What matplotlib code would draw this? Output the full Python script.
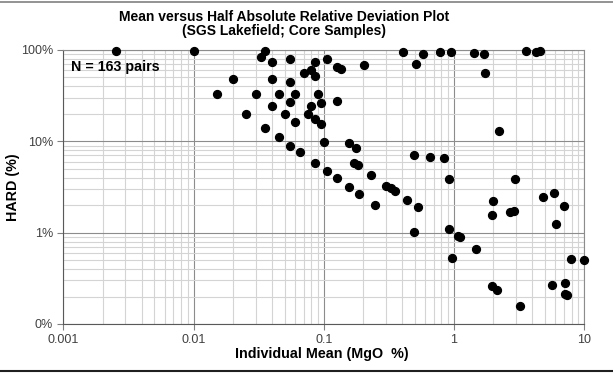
"""Mean vs half absolute relative deviation (HARD) scatter, log-log."""

import matplotlib

matplotlib.use("Agg")
import matplotlib.pyplot as plt
from matplotlib.lines import Line2D
from matplotlib.ticker import FuncFormatter, LogLocator, NullFormatter

plt.rcParams["font.family"] = ["Liberation Sans", "DejaVu Sans"]

# individual mean MgO (%) and HARD (fraction, 1.0 = 100%)
mean_mgo = [
    0.00252, 0.0101, 0.0352, 0.0328, 0.0402, 0.055, 0.0856, 0.1058, 0.1256,
    0.1363, 0.2025, 0.0201, 0.0402, 0.055, 0.0701, 0.0802, 0.0856, 0.01514,
    0.0303, 0.0453, 0.0604, 0.0907, 0.1256, 0.0402, 0.055, 0.0802, 0.0957,
    0.0253, 0.0504, 0.0752, 0.0856, 0.0604, 0.0957, 0.0352, 0.0453, 0.1003,
    0.055, 0.0656, 0.0856, 0.1058, 0.1263, 0.1561, 0.1767, 0.1715, 0.1831,
    0.1561, 0.1873, 0.2316, 0.2473, 0.3019, 0.3263, 0.352, 0.4353, 0.526,
    0.4926, 0.657, 0.8374, 0.915, 0.4035, 0.5131, 0.5806, 0.7803, 0.9526,
    1.416, 1.707, 1.719, 3.587, 4.236, 4.57, 2.202, 2.953, 2.001, 1.946,
    2.675, 2.871, 4.793, 5.886, 6.986, 0.4926, 0.9194, 1.078, 1.117, 0.9594,
    1.482, 6.095, 7.865, 10.0, 1.946, 2.126, 3.192, 5.68, 7.109, 7.109, 7.404,
]
hard = [
    0.975, 0.975, 0.975, 0.838, 0.733, 0.803, 0.744, 0.791, 0.656,
    0.619, 0.685, 0.485, 0.485, 0.446, 0.56, 0.608, 0.519, 0.33,
    0.33, 0.33, 0.33, 0.33, 0.276, 0.2455, 0.2696, 0.2455, 0.261,
    0.199, 0.199, 0.199, 0.1743, 0.164, 0.156, 0.141, 0.1107, 0.0983,
    0.0896, 0.0759, 0.0583, 0.047, 0.04, 0.0951, 0.0845, 0.0583, 0.0546,
    0.0319, 0.0267, 0.0428, 0.0202, 0.0327, 0.0308, 0.0286, 0.023, 0.0191,
    0.0709, 0.0679, 0.0662, 0.0384, 0.951, 0.708, 0.897, 0.951, 0.951,
    0.92, 0.911, 0.56, 0.975, 0.958, 0.968, 0.1307, 0.039, 0.0224, 0.0155,
    0.01683, 0.01727, 0.0244, 0.0274, 0.0194, 0.01024, 0.01088, 0.00926, 0.00903, 0.00524,
    0.00667, 0.01234, 0.00511, 0.00498, 0.00259, 0.00237, 0.00157, 0.00265, 0.00281, 0.00213, 0.00206,
]

fig = plt.figure(figsize=(6.13, 3.73), dpi=100)
ax = fig.add_axes([63.3 / 613, 1 - 324 / 373, (584.3 - 63.3) / 613, (324 - 50) / 373])

ax.set_xscale("log")
ax.set_yscale("log")
ax.set_xlim(0.001, 10)
ax.set_ylim(0.001, 1)

ax.scatter(mean_mgo, hard, s=32, color="black", zorder=3, clip_on=False)

ax.xaxis.set_major_locator(LogLocator(base=10))
ax.yaxis.set_major_locator(LogLocator(base=10))
ax.xaxis.set_minor_locator(LogLocator(base=10, subs=range(2, 10)))
ax.yaxis.set_minor_locator(LogLocator(base=10, subs=range(2, 10)))
ax.xaxis.set_major_formatter(FuncFormatter(lambda v, _: f"{v:g}"))
ax.yaxis.set_major_formatter(FuncFormatter(lambda v, _: f"{v:.0%}"))
ax.xaxis.set_minor_formatter(NullFormatter())
ax.yaxis.set_minor_formatter(NullFormatter())

ax.grid(which="major", color="#8c8c8c", linewidth=0.8)
ax.grid(which="minor", color="#d4d4d4", linewidth=0.8)
ax.set_axisbelow(True)
ax.tick_params(which="major", length=4, width=0.8, color="#808080", labelsize=9,
               labelcolor="#404040")
ax.tick_params(which="minor", length=0)
for side in ["left", "bottom"]:
    ax.spines[side].set_color("#595959")
for side in ["top", "right"]:
    ax.spines[side].set_color("#8c8c8c")

ax.set_xlabel("Individual Mean (MgO  %)", fontsize=10.3, fontweight="bold")
ax.set_ylabel("HARD (%)", fontsize=10.3, fontweight="bold")
ax.xaxis.set_label_coords((322 - 63.3) / 521, -(347 - 324) / 274)
ax.yaxis.set_label_coords(-(63.3 - 20) / 521, 0.5)
ax.text(0.015, 0.965, "N = 163 pairs", transform=ax.transAxes, fontsize=10.3,
        fontweight="bold", va="top", ha="left")

fig.text(284 / 613, 1 - 24 / 373,
         "Mean versus Half Absolute Relative Deviation Plot\n(SGS Lakefield; Core Samples)",
         ha="center", va="center", fontsize=10, fontweight="bold", linespacing=1.0)

# chart-area border lines (top and bottom only)
fig.add_artist(Line2D([0, 1], [1 - 1.5 / 373] * 2, transform=fig.transFigure,
                      color="#808080", linewidth=1.2))
fig.add_artist(Line2D([0, 1], [1 - 371 / 373] * 2, transform=fig.transFigure,
                      color="#202020", linewidth=1.5))

fig.savefig("out.png", dpi=100)
